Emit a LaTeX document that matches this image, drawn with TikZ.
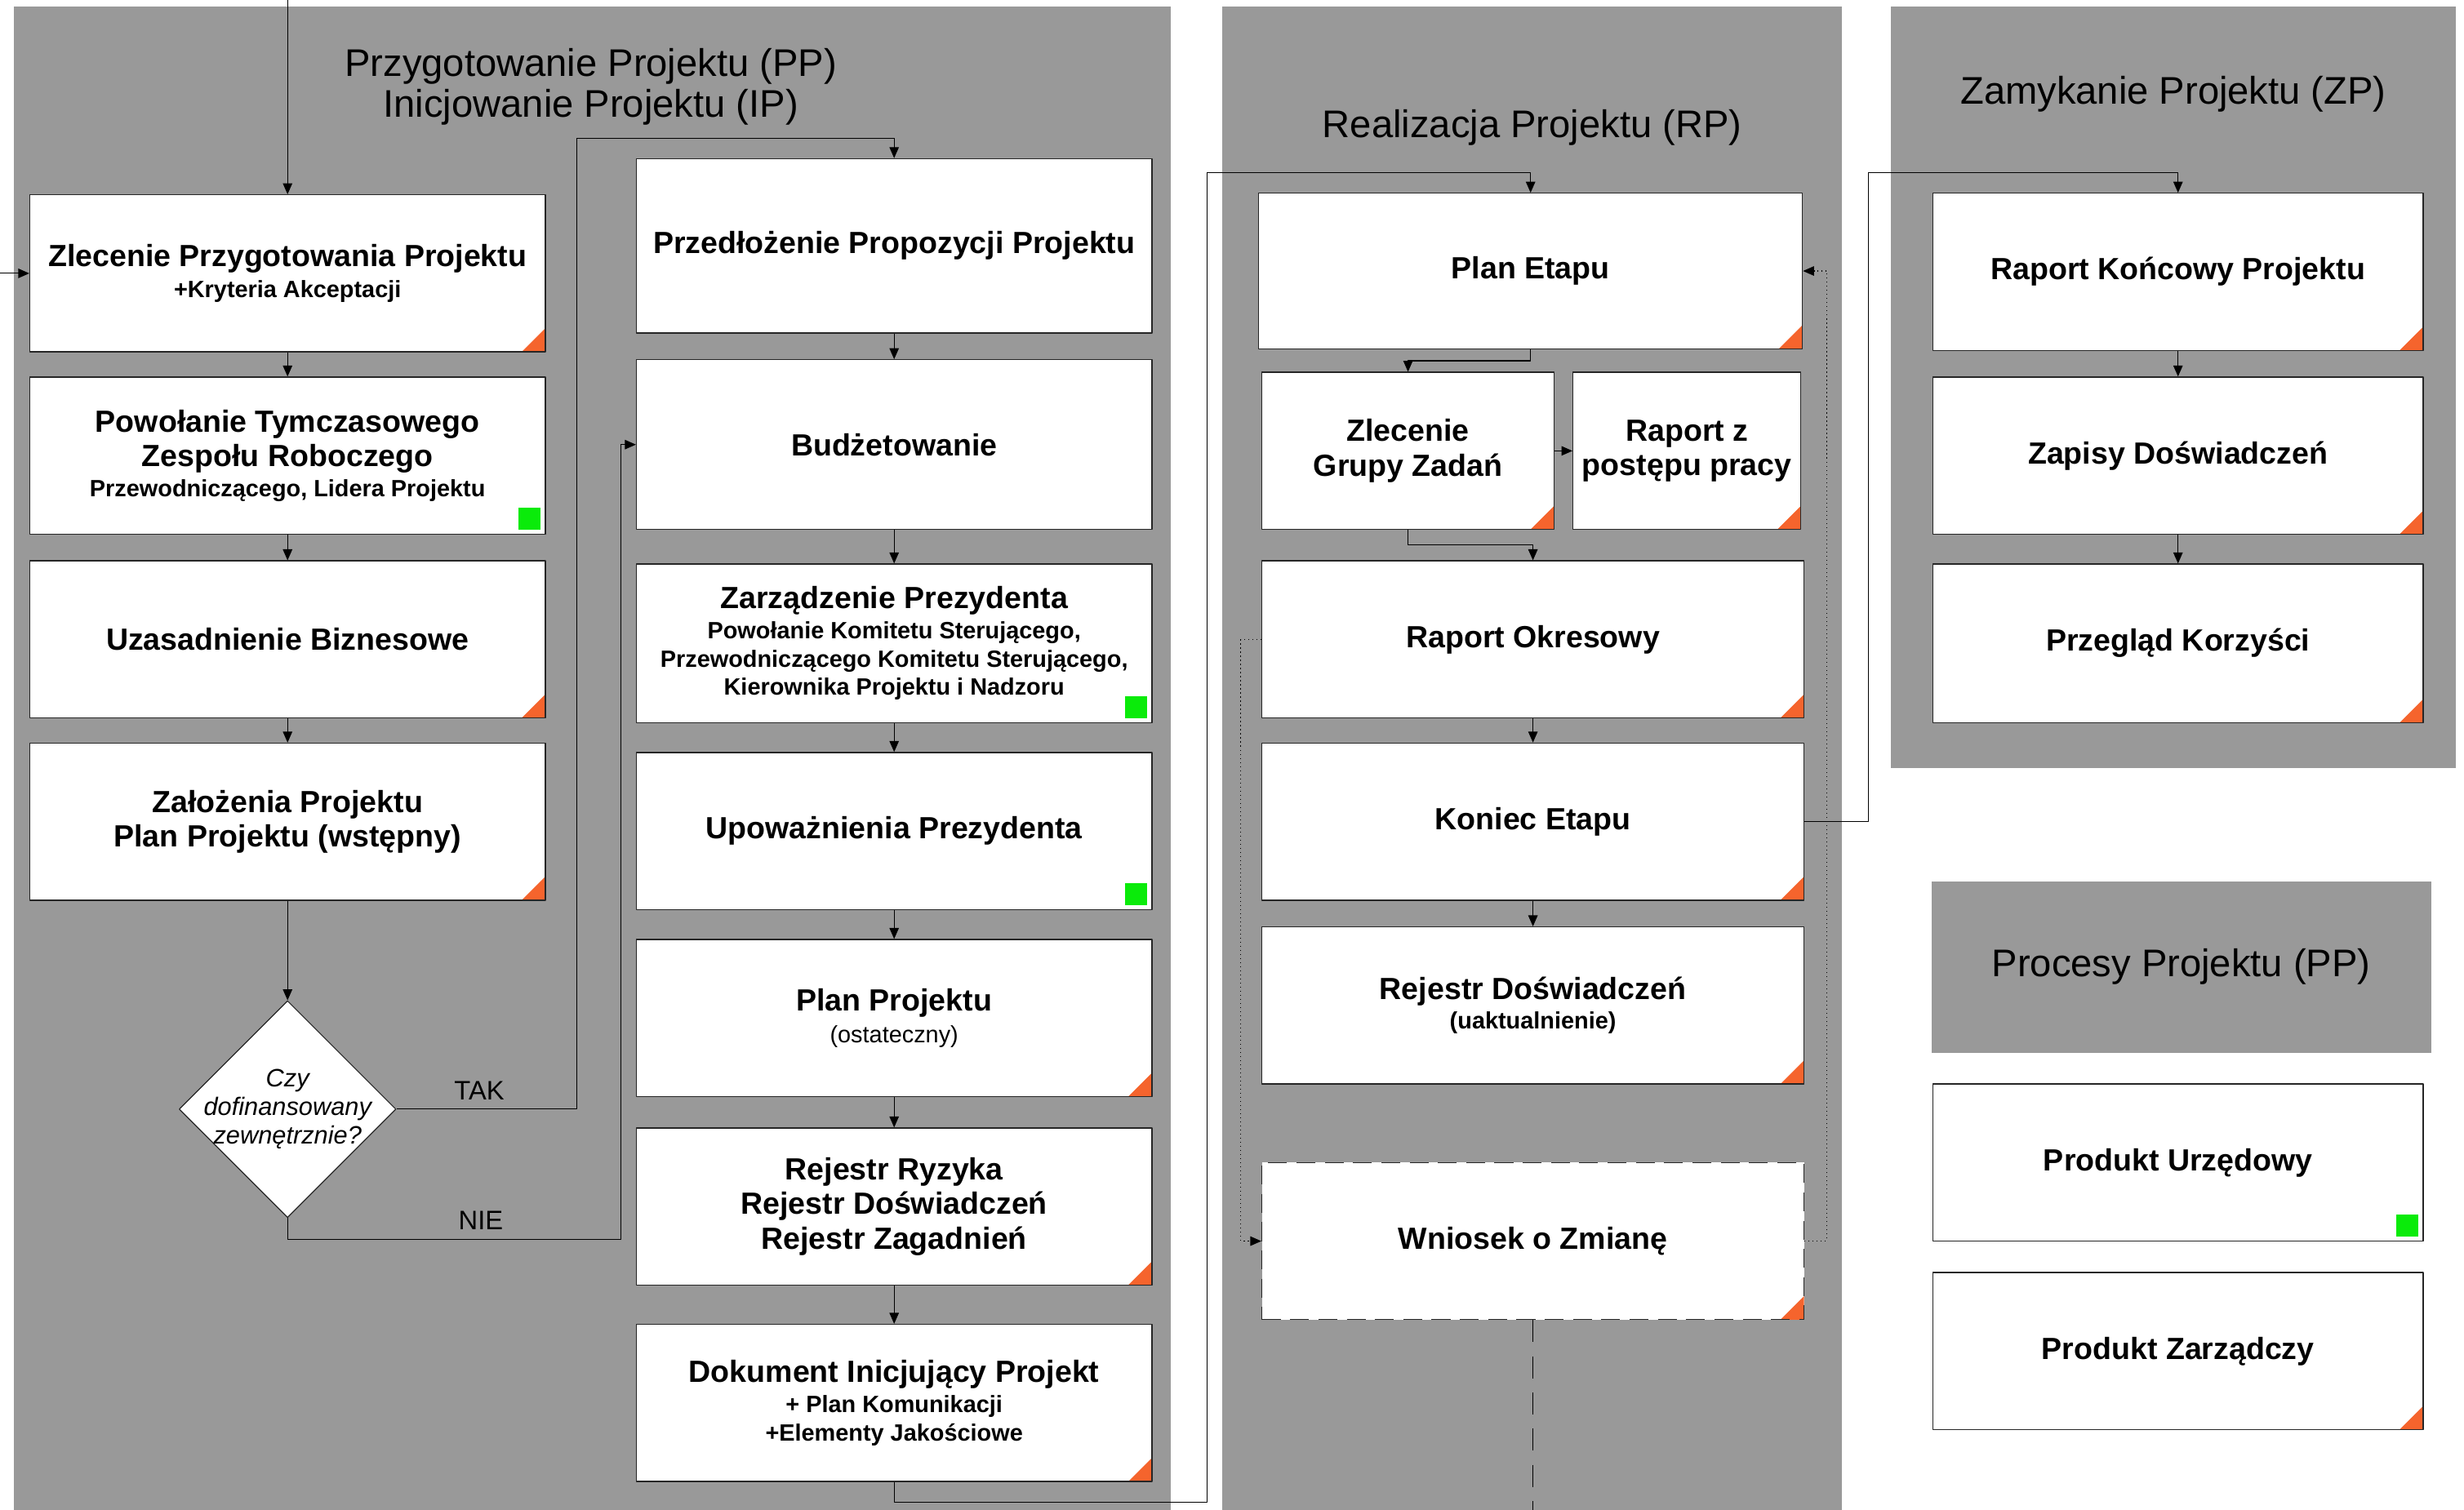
\documentclass[tikz,border=0pt]{standalone}
\usepackage{fontspec}
\setmainfont{Liberation Sans}
\usetikzlibrary{arrows.meta,shapes.geometric}
\definecolor{szary}{RGB}{153,153,153}
\definecolor{pomar}{RGB}{245,100,45}
\definecolor{ziel}{RGB}{10,235,10}
\newcommand{\maly}{\fontsize{15}{18}\selectfont}
\tikzset{
  blok/.style={draw=black!85, line width=0.7pt, fill=white, align=center, inner sep=2pt,
    font=\bfseries\fontsize{19.5}{22}\selectfont},
  zarz/.style={path picture={\fill[pomar] (path picture bounding box.south east) -- ++(-15pt,0pt) -- ++(15pt,15pt) -- cycle;}},
  urz/.style={path picture={\fill[ziel] ([xshift=-17pt,yshift=3pt]path picture bounding box.south east) rectangle ++(14pt,14pt);}},
  kol1/.style={blok, minimum width=328pt, minimum height=100pt},
  kol2/.style={blok, zarz, minimum width=345pt, minimum height=100pt},
  kol3/.style={blok, zarz, minimum width=312pt, minimum height=100pt},
  tytul/.style={font=\fontsize{24.5}{26}\selectfont, align=center},
  etyk/.style={font=\fontsize{17}{20}\selectfont},
  lacz/.style={line width=0.6pt, ->}
}
\begin{document}
\begin{tikzpicture}[x=1pt, y=-1pt, >={Triangle[length=7pt,width=6pt]}, line join=round]
\useasboundingbox (0,0) rectangle (1568,961);
\fill[white] (0,0) rectangle (1568,961);
% tla etapow
\fill[szary] (9,4) rectangle (745,961);
\fill[szary] (778,4) rectangle (1172,961);
\fill[szary] (1203,4) rectangle (1563,489);
\node[tytul] (t1) at (376,55) {Przygotowanie Projektu (PP)\\Inicjowanie Projektu (IP)};
\node[tytul] (t2) at (975,81) {Realizacja Projektu (RP)};
\node[tytul] (t3) at (1383,60) {Zamykanie Projektu (ZP)};
% przygotowanie i inicjowanie
\node[kol1,zarz] (zpp) at (183,174) {Zlecenie Przygotowania Projektu\\[-2pt]\maly +Kryteria Akceptacji};
\node[kol1,urz] (ptzr) at (183,290) {Powołanie Tymczasowego\\Zespołu Roboczego\\[-3pt]\maly Przewodniczącego, Lidera Projektu};
\node[kol1,zarz] (ub) at (183,407) {Uzasadnienie Biznesowe};
\node[kol1,zarz] (zp) at (183,523) {Założenia Projektu\\Plan Projektu (wstępny)};
\node[draw=black!85, line width=0.6pt, fill=white, diamond, minimum size=138pt, inner sep=0pt] (dec) at (183,706) {};
\node[font=\itshape\fontsize{16}{18}\selectfont, align=center] (dect) at (183,706) {Czy\\dofinansowany\\zewnętrznie?};
\node[kol1, minimum height=111pt] (ppp) at (569,156.5) {Przedłożenie Propozycji Projektu};
\node[kol1, minimum height=108pt] (bud) at (569,283) {Budżetowanie};
\node[kol1, urz, minimum height=101pt] (zpr) at (569,409.5) {Zarządzenie Prezydenta\\[-3pt]\maly Powołanie Komitetu Sterującego,\\[-4pt]\maly Przewodniczącego Komitetu Sterującego,\\[-4pt]\maly Kierownika Projektu i Nadzoru};
\node[kol1,urz] (upr) at (569,529) {Upoważnienia Prezydenta};
\node[kol1,zarz] (ppo) at (569,648) {Plan Projektu\\[-2pt]\maly\mdseries (ostateczny)};
\node[kol1,zarz] (rej) at (569,768) {Rejestr Ryzyka\\Rejestr Doświadczeń\\Rejestr Zagadnień};
\node[kol1,zarz] (dip) at (569,893) {Dokument Inicjujący Projekt\\[-3pt]\maly + Plan Komunikacji\\[-4pt]\maly +Elementy Jakościowe};
% realizacja
\node[blok, zarz, minimum width=346pt, minimum height=99pt] (pe) at (974,172.5) {Plan Etapu};
\node[blok, zarz, minimum width=186pt, minimum height=100pt] (zgz) at (896,287) {Zlecenie\\Grupy Zadań};
\node[blok, zarz, minimum width=145pt, minimum height=100pt] (rpp) at (1073.5,287) {Raport z\\postępu pracy};
\node[kol2] (ro) at (975.5,407) {Raport Okresowy};
\node[kol2] (ke) at (975.5,523) {Koniec Etapu};
\node[kol2] (rd) at (975.5,640) {Rejestr Doświadczeń\\[-3pt]\maly (uaktualnienie)};
\node[kol2, dash pattern=on 12pt off 6pt] (wz) at (975.5,790) {Wniosek o Zmianę};
% zamykanie
\node[kol3] (rkp) at (1386,173) {Raport Końcowy Projektu};
\node[kol3] (zd) at (1386,290) {Zapisy Doświadczeń};
\node[kol3, minimum height=101pt] (pk) at (1386,409.5) {Przegląd Korzyści};
% legenda
\node[tytul, fill=szary, minimum width=318pt, minimum height=109pt] (leg) at (1388,615.5) {Procesy Projektu (PP)};
\node[blok, urz, minimum width=312pt, minimum height=100pt] (pu) at (1386,740) {Produkt Urzędowy};
\node[kol3] (pz) at (1386,860) {Produkt Zarządczy};
% polaczenia
\coordinate (wejG) at (183,0);
\coordinate (wejL) at (0,174);
\draw[lacz] (wejG) -- (zpp.north);
\draw[lacz] (wejL) -- (zpp.west);
\foreach \a/\b in {zpp/ptzr,ptzr/ub,ub/zp,zp/dec,ppp/bud,bud/zpr,zpr/upr,upr/ppo,ppo/rej,rej/dip,ro/ke,ke/rd,rkp/zd,zd/pk}
  \draw[lacz] (\a.south) -- (\b.north);
\coordinate (tak) at (367,88);
\draw[lacz] (dec.east) -| (tak) -| (ppp.north);
\node[etyk] (ltak) at (305,694) {TAK};
\coordinate (nie) at (395,789);
\draw[lacz] (dec.south) |- (nie) |- (bud.west);
\node[etyk] (lnie) at (306,777) {NIE};
\coordinate (d1) at (768,956);
\coordinate (d2) at (768,110);
\draw[lacz] (dip.south) |- (d1) -- (d2) -| (pe.north);
\draw[lacz] (pe.south) |- ([yshift=7pt]zgz.north) -- (zgz.north);
\draw[lacz] (zgz.east) -- (rpp.west);
\draw[lacz] (zgz.south) |- ([yshift=10pt]ro.north) -- (ro.north);
\draw[lacz, dotted] (ro.west) -- ++(-13,0) |- (wz.west);
\draw[lacz, dotted] (wz.east) -- ++(14,0) |- (pe.east);
\coordinate (dol) at (975.5,961);
\draw[line width=0.6pt, dash pattern=on 14pt off 9pt] (wz.south) -- (dol);
\coordinate (z1) at (1189,110);
\draw[lacz] (ke.east) -| (z1) -| (rkp.north);
\end{tikzpicture}
\end{document}
